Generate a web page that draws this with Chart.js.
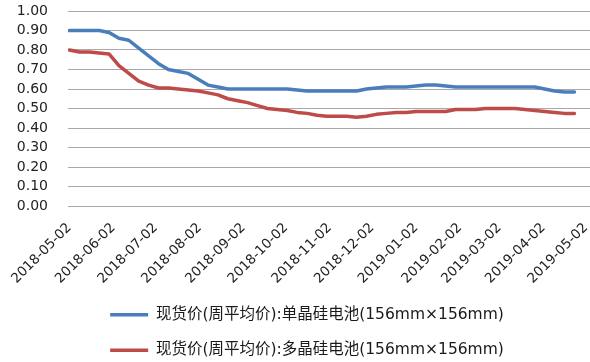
<!DOCTYPE html>
<html>
<head>
<meta charset="utf-8">
<script src="https://cdn.jsdelivr.net/npm/chart.js@4/dist/chart.umd.min.js"></script>
<style>
  html, body { margin: 0; padding: 0; background: #ffffff; }
  #wrap { width: 590px; height: 362px; position: relative; }
</style>
</head>
<body>
<div id="wrap"><canvas id="c"></canvas></div>
<script>
// Weekly observation dates
const weekDates = [
  '2018-05-02','2018-05-09','2018-05-16','2018-05-23','2018-05-30',
  '2018-06-06','2018-06-13','2018-06-20','2018-06-27',
  '2018-07-04','2018-07-11','2018-07-18','2018-07-25',
  '2018-08-01','2018-08-08','2018-08-15','2018-08-22','2018-08-29',
  '2018-09-05','2018-09-12','2018-09-19','2018-09-26',
  '2018-10-03','2018-10-10','2018-10-17','2018-10-24','2018-10-31',
  '2018-11-07','2018-11-14','2018-11-21','2018-11-28',
  '2018-12-05','2018-12-12','2018-12-19','2018-12-26',
  '2019-01-02','2019-01-09','2019-01-16','2019-01-23','2019-01-30',
  '2019-02-06','2019-02-13','2019-02-20','2019-02-27',
  '2019-03-06','2019-03-13','2019-03-20','2019-03-27',
  '2019-04-03','2019-04-10','2019-04-17','2019-04-24'
];

// 单晶硅电池 weekly average spot price
const monoPrices = [
  0.90, 0.90, 0.90, 0.90, 0.89,
  0.86, 0.85, 0.81, 0.77,
  0.73, 0.70, 0.69, 0.68,
  0.65, 0.62, 0.61, 0.60, 0.60,
  0.60, 0.60, 0.60, 0.60,
  0.60, 0.595, 0.59, 0.59, 0.59,
  0.59, 0.59, 0.59, 0.60,
  0.605, 0.61, 0.61, 0.61,
  0.615, 0.62, 0.62, 0.615, 0.61,
  0.61, 0.61, 0.61, 0.61,
  0.61, 0.61, 0.61, 0.61,
  0.60, 0.59, 0.585, 0.585
];

// 多晶硅电池 weekly average spot price
const polyPrices = [
  0.80, 0.79, 0.79, 0.785, 0.78,
  0.72, 0.68, 0.64, 0.62,
  0.605, 0.605, 0.60, 0.595,
  0.59, 0.58, 0.57, 0.55, 0.54,
  0.53, 0.515, 0.50, 0.495,
  0.49, 0.48, 0.475, 0.465, 0.46,
  0.46, 0.46, 0.455, 0.46,
  0.47, 0.475, 0.48, 0.48,
  0.485, 0.485, 0.485, 0.485, 0.495,
  0.495, 0.495, 0.50, 0.50,
  0.50, 0.50, 0.495, 0.49,
  0.485, 0.48, 0.475, 0.475
];

// Month tick labels on the date axis
const monthLabels = [
  '2018-05-02','2018-06-02','2018-07-02','2018-08-02','2018-09-02','2018-10-02',
  '2018-11-02','2018-12-02','2019-01-02','2019-02-02','2019-03-02','2019-04-02','2019-05-02'
];

const seriesNames = [
  '现货价(周平均价):单晶硅电池(156mm×156mm)',
  '现货价(周平均价):多晶硅电池(156mm×156mm)'
];

const DAY = 86400000;
const origin = Date.parse(monthLabels[0] + 'T00:00:00Z');
const dayOf = s => Math.round((Date.parse(s + 'T00:00:00Z') - origin) / DAY);
const monthTickDays = monthLabels.map(dayOf);
const toPoints = vals => weekDates.map((d, i) => ({ x: dayOf(d), y: vals[i] }));

const FONT_FAMILY = '"DejaVu Sans", "Noto Sans CJK SC", sans-serif';

// Nudge the legend block a little to the right of the canvas centre
const legendNudge = {
  id: 'legendNudge',
  afterLayout(chart) {
    const lg = chart.legend;
    if (lg) { lg.left += 12; lg.right += 12; }
  }
};

new Chart(document.getElementById('c'), {
  type: 'line',
  plugins: [legendNudge],
  data: {
    datasets: [
      {
        label: seriesNames[0],
        data: toPoints(monoPrices),
        borderColor: '#4a7ebb',
        backgroundColor: '#4a7ebb',
        borderWidth: 3.5,
        pointRadius: 0,
        tension: 0,
        borderJoinStyle: 'round',
        borderCapStyle: 'round'
      },
      {
        label: seriesNames[1],
        data: toPoints(polyPrices),
        borderColor: '#be4b48',
        backgroundColor: '#be4b48',
        borderWidth: 3.5,
        pointRadius: 0,
        tension: 0,
        borderJoinStyle: 'round',
        borderCapStyle: 'round'
      }
    ]
  },
  options: {
    responsive: true,
    maintainAspectRatio: false,
    animation: false,
    devicePixelRatio: 1,
    layout: { padding: { top: 11, left: 0, right: 0, bottom: -6 } },
    plugins: {
      tooltip: { enabled: false },
      legend: {
        position: 'bottom',
        labels: {
          usePointStyle: true,
          pointStyle: 'line',
          pointStyleWidth: 38,
          padding: 20,
          color: '#1a1a1a',
          font: { family: FONT_FAMILY, size: 15.5 }
        }
      }
    },
    scales: {
      x: {
        type: 'linear',
        min: -1,
        max: 368,
        grid: { display: false },
        border: { display: false },
        afterBuildTicks: scale => {
          scale.ticks = monthTickDays.map(v => ({ value: v }));
        },
        afterFit: scale => {
          scale.height = 81;
          scale.paddingRight = 0;
        },
        ticks: {
          autoSkip: false,
          minRotation: 45,
          maxRotation: 45,
          padding: 6,
          color: '#222222',
          font: { family: FONT_FAMILY, size: 13.5 },
          callback: (value, index) => monthLabels[index]
        }
      },
      y: {
        min: 0,
        max: 1,
        grid: { color: '#a9a9a9', lineWidth: 1, drawTicks: false },
        border: { display: false },
        afterFit: scale => {
          scale.width = 68;
          scale.paddingTop = 0;
          scale.paddingBottom = 0;
        },
        ticks: {
          autoSkip: false,
          stepSize: 0.1,
          padding: 20,
          color: '#222222',
          font: { family: FONT_FAMILY, size: 14 },
          callback: v => v.toFixed(2)
        }
      }
    }
  }
});
</script>
</body>
</html>
